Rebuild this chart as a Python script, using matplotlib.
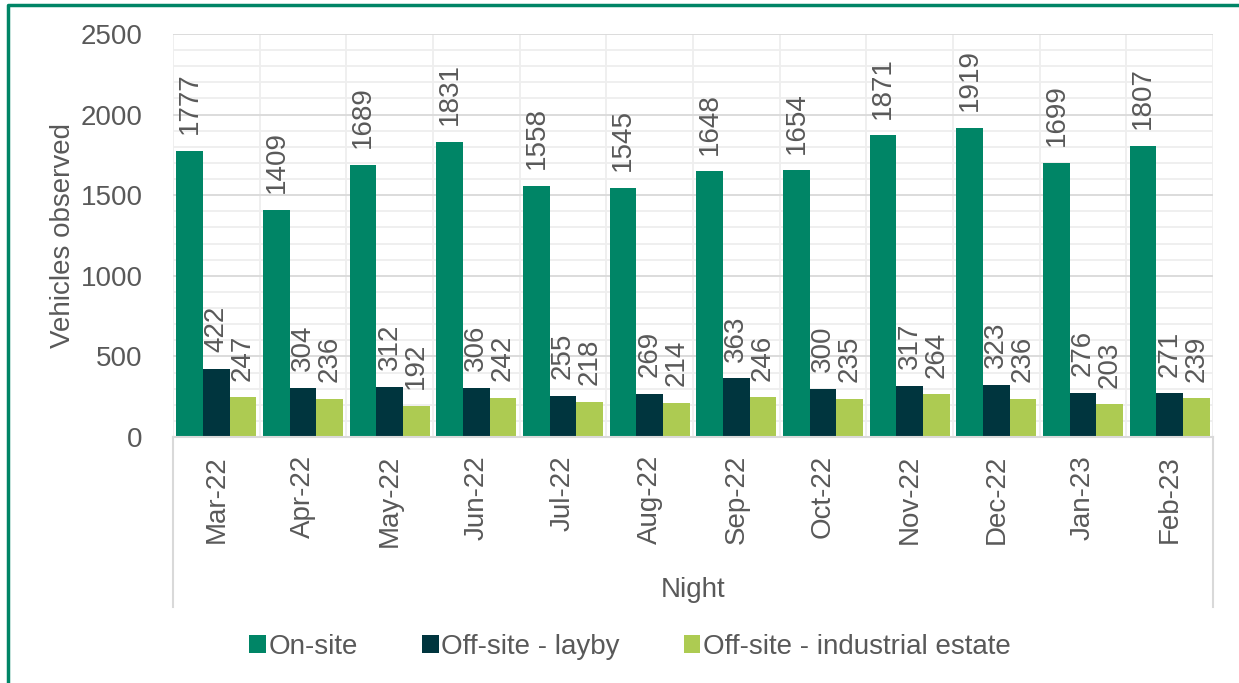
import numpy as np
import matplotlib
matplotlib.use("Agg")
import matplotlib.pyplot as plt
from matplotlib.lines import Line2D
from matplotlib.patches import Patch

plt.rcParams['font.family'] = ['Liberation Sans', 'DejaVu Sans']

months = ['Mar-22', 'Apr-22', 'May-22', 'Jun-22', 'Jul-22', 'Aug-22',
          'Sep-22', 'Oct-22', 'Nov-22', 'Dec-22', 'Jan-23', 'Feb-23']
on_site = [1777, 1409, 1689, 1831, 1558, 1545, 1648, 1654, 1871, 1919, 1699, 1807]
layby = [422, 304, 312, 306, 255, 269, 363, 300, 317, 323, 276, 271]
industrial = [247, 236, 192, 242, 218, 214, 246, 235, 264, 236, 203, 239]

series = [
    ('On-site', on_site, '#008566'),
    ('Off-site - layby', layby, '#00353E'),
    ('Off-site - industrial estate', industrial, '#ADCB52'),
]

txt = '#595959'
W, H = 1239, 683

fig = plt.figure(figsize=(W / 100, H / 100), dpi=100)
ax = fig.add_axes([173 / W, 1 - 437 / H, 1040 / W, 403 / H])

x = np.arange(len(months))
bw = 0.307
for i, (name, vals, col) in enumerate(series):
    pos = x + (i - 1) * bw
    ax.bar(pos, vals, bw, color=col, zorder=3)
    for px, v in zip(pos, vals):
        ax.annotate(str(v), (px, v), xytext=(0, 12), textcoords='offset points',
                    rotation=90, ha='center', va='bottom', fontsize=20,
                    color=txt, zorder=4)

ax.set_xlim(-0.5, len(months) - 0.5)
ax.set_ylim(0, 2500)
ax.set_yticks(np.arange(0, 2501, 500))
ax.set_yticks(np.arange(0, 2501, 100), minor=True)
ax.set_xticks(x)
ax.set_xticks(np.arange(-0.5, len(months), 0.5), minor=True)
ax.set_xticklabels(months, rotation=90, fontsize=20, color=txt)
ax.tick_params(axis='y', labelsize=20, labelcolor=txt, length=0, pad=22, which='both')
ax.tick_params(axis='x', length=0, pad=13, which='both')

ax.grid(axis='y', which='major', color='#D9D9D9', lw=1.3, zorder=0)
ax.grid(axis='y', which='minor', color='#EEEEEE', lw=1.3, zorder=0)
ax.grid(axis='x', which='minor', color='#EEEEEE', lw=1.3, zorder=0)
ax.grid(axis='x', which='major', visible=False)

for s in ['top', 'right', 'left']:
    ax.spines[s].set_visible(False)
ax.spines['bottom'].set_color('#D9D9D9')
ax.spines['bottom'].set_linewidth(1.5)
ax.spines['bottom'].set_zorder(5)

# box lines below the axis (category area)
for xf in [173 / W, 1213 / W]:
    fig.add_artist(Line2D([xf, xf], [1 - 437 / H, 1 - 607 / H], color='#D9D9D9', lw=1.5))

ax.set_ylabel('Vehicles observed', fontsize=20, color=txt, labelpad=3)
fig.text(693 / W, 1 - 590 / H, 'Night', fontsize=20, color=txt, ha='center', va='center')

handles = [Patch(facecolor=c, label=n) for n, _, c in series]
fig.legend(handles=handles, loc='center', bbox_to_anchor=(630 / W, 1 - 647 / H),
           ncol=3, frameon=False, fontsize=20, labelcolor=txt,
           handlelength=0.6, handleheight=0.6, handletextpad=0.1, columnspacing=2.3)

# green outline of the chart area
fig.add_artist(Line2D([8 / W, 8 / W, 1], [0, 1 - 5 / H, 1 - 5 / H], color='#008566', lw=2.5))

fig.savefig('out.png', dpi=100)
